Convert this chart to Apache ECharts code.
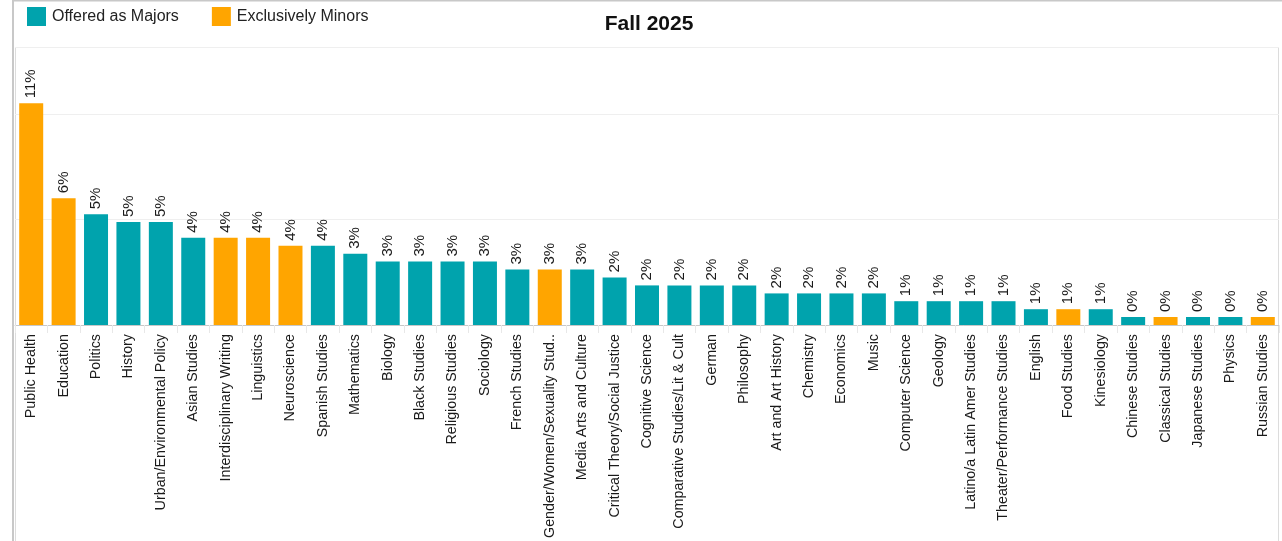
<!DOCTYPE html>
<html>
<head>
<meta charset="utf-8">
<style>
html, body { margin:0; padding:0; background:#fff; }
#main { width:1282px; height:541px; }
</style>
</head>
<body>
<div id="main"></div>
<script src="https://cdn.jsdelivr.net/npm/echarts@6/dist/echarts.min.js"></script>
<script>
var categories = ['Public Health','Education','Politics','History','Urban/Environmental Policy','Asian Studies',
    'Interdisciplinary Writing','Linguistics','Neuroscience','Spanish Studies','Mathematics','Biology',
    'Black Studies','Religious Studies','Sociology','French Studies','Gender/Women/Sexuality Stud..',
    'Media Arts and Culture','Critical Theory/Social Justice','Cognitive Science','Comparative Studies/Lit & Cult',
    'German','Philosophy','Art and Art History','Chemistry','Economics','Music','Computer Science','Geology',
    'Latino/a Latin Amer Studies','Theater/Performance Studies','English','Food Studies','Kinesiology',
    'Chinese Studies','Classical Studies','Japanese Studies','Physics','Russian Studies'];

// percent of students; '-' where the other group holds the bar
var majors = ['-','-',5.26,4.89,4.89,4.14,'-','-','-',3.76,3.38,3.01,3.01,3.01,3.01,2.63,'-',2.63,2.26,
    1.88,1.88,1.88,1.88,1.50,1.50,1.50,1.50,1.13,1.13,1.13,1.13,0.75,'-',0.75,0.38,'-',0.38,0.38,'-'];
var minors = [10.53,6.02,'-','-','-','-',4.14,4.14,3.76,'-','-','-','-','-','-','-',2.63,'-','-',
    '-','-','-','-','-','-','-','-','-','-','-','-','-',0.75,'-','-',0.38,'-','-',0.38];

var yTicks = [0, 5, 10];

var myChart = echarts.init(document.getElementById('main'));

var valueLabel = {
    show: true,
    position: 'top',
    distance: 5,
    rotate: 90,
    align: 'left',
    verticalAlign: 'middle',
    color: '#1a1a1a',
    fontSize: 15,
    fontFamily: 'Liberation Sans',
    formatter: function (p) { return Math.round(p.value) + '%'; }
};

var option = {
    animation: false,
    textStyle: { fontFamily: 'Liberation Sans' },
    title: {
        text: 'Fall 2025',
        left: 644,
        textAlign: 'center',
        top: 9,
        textStyle: { fontSize: 21, fontWeight: 'bold', color: '#111', fontFamily: 'Liberation Sans' }
    },
    legend: {
        left: 27,
        top: 7,
        padding: 0,
        itemWidth: 19,
        itemHeight: 19,
        itemGap: 33,
        icon: 'rect',
        textStyle: { fontSize: 16, color: '#222', fontFamily: 'Liberation Sans', padding: [0, 0, 0, 1] },
        data: ['Offered as Majors', 'Exclusively Minors']
    },
    graphic: [
        { type: 'rect', silent: true, shape: { x: 13, y: 0.5, width: 1290, height: 560 },
          style: { fill: 'none', stroke: '#c8c8c8', lineWidth: 2 } },
        { type: 'rect', silent: true, shape: { x: 15.5, y: 47.5, width: 1263, height: 520 },
          style: { fill: 'none', stroke: '#dcdcdc', lineWidth: 1 } }
    ],
    grid: { left: 15, right: 3, top: 47, bottom: 216, containLabel: false, outerBoundsMode: 'none' },
    xAxis: {
        type: 'category',
        data: categories,
        axisLine: { lineStyle: { color: '#c8c8c8' } },
        axisTick: { show: true, length: 8, lineStyle: { color: '#e8e8e8' } },
        axisLabel: {
            rotate: 90,
            interval: 0,
            margin: 9,
            fontSize: 14.3,
            color: '#1a1a1a',
            fontFamily: 'Liberation Sans'
        }
    },
    yAxis: {
        type: 'value',
        min: yTicks[0],
        max: 13.2,
        interval: yTicks[1] - yTicks[0],
        axisLabel: { show: false },
        axisLine: { show: false },
        axisTick: { show: false },
        splitLine: { lineStyle: { color: '#efefef' } }
    },
    series: [
        {
            name: 'Offered as Majors',
            type: 'bar',
            stack: 'all',
            barWidth: 24,
            itemStyle: { color: '#00a3ad' },
            label: valueLabel,
            data: majors
        },
        {
            name: 'Exclusively Minors',
            type: 'bar',
            stack: 'all',
            barWidth: 24,
            itemStyle: { color: '#ffa500' },
            label: valueLabel,
            data: minors
        }
    ]
};
myChart.setOption(option);
</script>
</body>
</html>
